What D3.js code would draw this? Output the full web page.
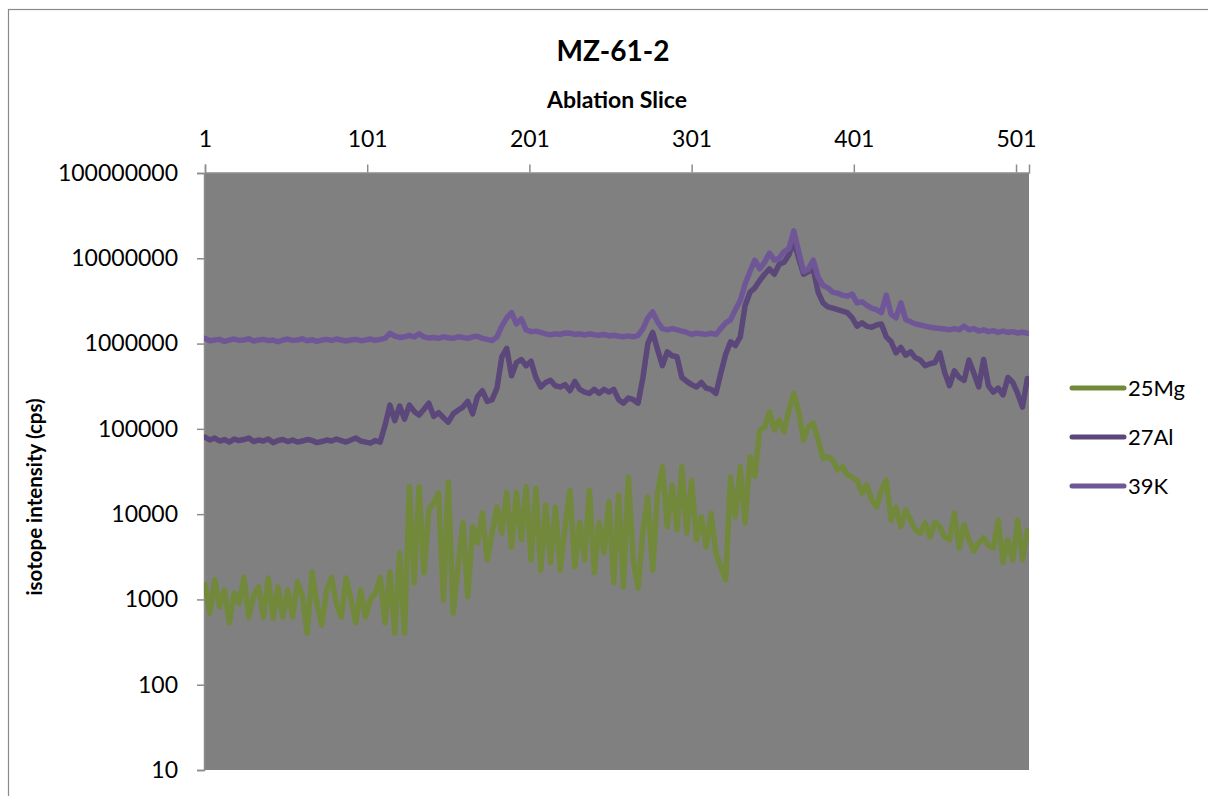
<!DOCTYPE html>
<html>
<head>
<meta charset="utf-8">
<script src="https://cdnjs.cloudflare.com/ajax/libs/d3/7.8.5/d3.min.js"></script>
<style>
  html, body { margin: 0; padding: 0; background: #ffffff; }
  svg { display: block; }
  text { font-family: Lato, "Open Sans", sans-serif; fill: #000; }
</style>
</head>
<body>
<svg id="chart" width="1208" height="796"></svg>
<script>
// Ablation slices sampled every third slice (1, 4, ..., 508)
const slices = d3.range(1, 509, 3);

// isotope intensity (cps)
const mg25 = [
  1.5e3, 690, 1.7e3, 815, 1.29e3, 530, 1.19e3, 900, 1.8e3, 620,
  1.1e3, 1.4e3, 620, 1.78e3, 600, 1.4e3, 620, 1.29e3, 620, 1.6e3,
  1.1e3, 400, 2.1e3, 900, 500, 1.29e3, 1.8e3, 900, 620, 1.78e3,
  1.0e3, 530, 1.29e3, 620, 1.0e3, 1.19e3, 1.8e3, 530, 2.1e3, 400,
  3.5e3, 400, 2.1e4, 1.56e3, 2.1e4, 2.05e3, 1.12e4, 1.35e4, 1.77e4, 985,
  2.4e4, 690, 2.4e3, 7.9e3, 1.07e3, 7.1e3,
  4.6e3, 1.03e4, 2.9e3, 6.0e3, 1.21e4, 6.0e3, 1.8e4, 4.1e3, 1.8e4, 5.0e3,
  2.1e4, 2.9e3, 2.0e4, 2.2e3, 1.28e4, 2.7e3, 1.21e4, 2.2e3, 7.1e3, 1.9e4,
  2.4e3, 8.0e3, 2.9e3, 1.9e4, 2.05e3, 7.9e3, 3.5e3, 1.4e4, 1.56e3, 1.68e4,
  1.4e3, 2.7e4, 2.9e3, 1.36e3, 6.5e3, 1.59e4, 2.2e3, 1.77e4, 3.6e4, 7.1e3,
  2.2e4, 6.5e3, 3.6e4, 6.0e3, 2.5e4, 5.0e3, 9.3e3, 4.1e3, 1.03e4, 3.5e3,
  2.4e3, 1.7e3, 2.7e4, 9.3e3, 3.6e4, 7.9e3,
  4.7e4, 2.8e4, 9.7e4, 1.05e5, 1.58e5, 9.7e4, 1.27e5, 9.2e4, 1.66e5, 2.6e5,
  1.6e5, 7.4e4, 1.05e5, 1.17e5, 7.4e4, 4.5e4, 4.7e4, 4.3e4, 3.3e4, 3.6e4,
  2.9e4, 2.7e4, 2.5e4, 1.77e4, 2.2e4, 1.47e4, 1.21e4, 1.9e4, 2.5e4, 8.5e3,
  1.2e4, 7.1e3, 1.12e4, 8.5e3, 6.5e3, 6.0e3, 7.9e3, 5.4e3, 8.0e3, 7.1e3,
  5.4e3, 5.0e3, 1.03e4, 4.0e3, 7.5e3, 5.0e3, 3.7e3, 4.6e3, 5.3e3, 4.3e3,
  4.0e3, 8.5e3, 2.7e3, 5.0e3, 2.9e3, 8.5e3, 2.9e3, 6.5e3
];

const al27 = [
  8.0e4, 7.4e4, 7.8e4, 7.2e4, 7.5e4, 7.0e4, 7.6e4, 7.3e4, 7.5e4, 7.8e4,
  7.1e4, 7.4e4, 7.2e4, 7.6e4, 6.9e4, 7.3e4, 7.5e4, 7.1e4, 7.4e4, 7.0e4,
  7.2e4, 7.5e4, 7.3e4, 6.9e4, 7.1e4, 7.4e4, 7.2e4, 7.6e4, 7.3e4, 7.0e4,
  7.4e4, 7.8e4, 7.2e4, 7.0e4, 6.8e4, 7.3e4, 7.0e4,
  1.1e5, 1.9e5, 1.25e5, 1.85e5, 1.3e5, 1.9e5, 1.6e5, 1.45e5, 1.7e5, 2.0e5,
  1.4e5, 1.55e5, 1.35e5, 1.2e5, 1.5e5, 1.65e5, 1.8e5, 2.1e5, 1.5e5,
  2.4e5, 2.8e5, 2.1e5, 2.2e5, 3.0e5, 7.0e5, 8.8e5, 4.2e5, 6.0e5, 6.5e5,
  5.5e5, 6.2e5, 4.0e5, 3.1e5, 3.5e5, 3.7e5, 3.2e5, 3.1e5, 3.3e5, 2.8e5,
  3.6e5, 2.9e5, 2.7e5, 2.6e5, 2.9e5, 2.6e5, 2.9e5, 2.7e5, 2.9e5, 2.2e5,
  2.0e5, 2.3e5, 2.2e5, 2.0e5, 4.0e5, 1.0e6, 1.35e6, 8.5e5, 5.5e5, 8.0e5,
  7.2e5, 7.0e5, 4.0e5, 3.6e5, 3.3e5, 3.1e5, 3.5e5, 3.0e5, 2.9e5, 2.6e5,
  4.5e5, 7.5e5, 1.05e6, 9.5e5, 1.2e6,
  2.8e6, 4.0e6, 4.5e6, 5.5e6, 6.5e6, 7.5e6, 6.5e6, 8.5e6, 9.0e6, 1.1e7,
  1.6e7, 1.0e7, 6.5e6, 7.0e6, 7.5e6, 4.0e6, 3.0e6, 2.7e6, 2.6e6, 2.5e6,
  2.4e6, 2.3e6, 2.0e6, 1.6e6, 1.75e6, 1.6e6, 1.55e6, 1.65e6, 1.7e6, 1.2e6,
  1.05e6, 7.8e5, 9.0e5, 7.3e5, 8.0e5, 6.8e5, 6.4e5, 5.5e5, 5.8e5, 6.0e5,
  7.8e5, 4.6e5, 3.2e5, 4.8e5, 4.0e5, 3.7e5, 6.4e5, 4.5e5, 3.1e5, 6.5e5,
  3.2e5, 2.7e5, 3.0e5, 2.5e5, 4.0e5, 3.5e5, 2.6e5, 1.8e5, 3.9e5
];

const k39 = [
  1.15e6, 1.08e6, 1.1e6, 1.12e6, 1.06e6, 1.1e6, 1.13e6, 1.09e6, 1.1e6, 1.14e6,
  1.07e6, 1.1e6, 1.12e6, 1.08e6, 1.1e6, 1.05e6, 1.1e6, 1.13e6, 1.09e6, 1.1e6,
  1.14e6, 1.08e6, 1.11e6, 1.06e6, 1.1e6, 1.12e6, 1.09e6, 1.13e6, 1.1e6, 1.07e6,
  1.1e6, 1.12e6, 1.08e6, 1.1e6, 1.13e6, 1.09e6, 1.12e6,
  1.15e6, 1.32e6, 1.22e6, 1.18e6, 1.2e6, 1.25e6, 1.2e6, 1.3e6, 1.2e6, 1.16e6,
  1.18e6, 1.15e6, 1.2e6, 1.17e6, 1.15e6, 1.2e6, 1.18e6, 1.15e6, 1.2e6,
  1.22e6, 1.15e6, 1.12e6, 1.08e6, 1.2e6, 1.6e6, 2.0e6, 2.3e6, 1.7e6, 1.95e6,
  1.45e6, 1.38e6, 1.4e6, 1.35e6, 1.3e6, 1.27e6, 1.3e6, 1.28e6, 1.33e6, 1.32e6,
  1.28e6, 1.3e6, 1.26e6, 1.3e6, 1.27e6, 1.25e6, 1.28e6, 1.23e6, 1.25e6, 1.22e6,
  1.2e6, 1.23e6, 1.2e6, 1.25e6, 1.5e6, 2.0e6, 2.35e6, 1.8e6, 1.5e6, 1.45e6,
  1.5e6, 1.45e6, 1.4e6, 1.35e6, 1.28e6, 1.32e6, 1.3e6, 1.28e6, 1.32e6, 1.28e6,
  1.5e6, 1.75e6, 1.9e6, 2.5e6, 3.2e6,
  5.0e6, 7.0e6, 9.5e6, 7.5e6, 9.0e6, 1.15e7, 9.5e6, 1.0e7, 1.2e7, 1.3e7,
  2.1e7, 1.2e7, 7.0e6, 7.5e6, 9.5e6, 6.0e6, 4.8e6, 4.5e6, 4.0e6, 3.9e6,
  3.7e6, 3.6e6, 3.8e6, 3.0e6, 3.1e6, 2.8e6, 2.6e6, 2.5e6, 2.3e6, 3.7e6,
  2.2e6, 2.0e6, 3.0e6, 1.9e6, 1.8e6, 1.7e6, 1.65e6, 1.6e6, 1.55e6, 1.52e6,
  1.5e6, 1.48e6, 1.45e6, 1.5e6, 1.45e6, 1.6e6, 1.45e6, 1.5e6, 1.4e6, 1.45e6,
  1.38e6, 1.42e6, 1.35e6, 1.4e6, 1.35e6, 1.38e6, 1.33e6, 1.36e6, 1.32e6
];

const seriesNames = ["25Mg", "27Al", "39K"];
const seriesValues = [mg25, al27, k39];
const seriesColors = ["#72893b", "#5b4779", "#6f5797"];

const xTicks = [1, 101, 201, 301, 401, 501];
const yTicks = [10, 100, 1000, 10000, 100000, 1000000, 10000000, 100000000];

const chartTitle = "MZ-61-2";
const xTitle = "Ablation Slice";
const yTitle = "isotope intensity (cps)";

// ---- layout ----
const plot = { left: 205, right: 1029, top: 173, bottom: 770 };

const svg = d3.select("#chart");

// outer chart frame
svg.append("rect")
  .attr("x", 8.5).attr("y", 9.5)
  .attr("width", 1215).attr("height", 800)
  .attr("fill", "#ffffff")
  .attr("stroke", "#898989").attr("stroke-width", 1.2);

const x = d3.scaleLinear().domain([1, 509]).range([plot.left, plot.right]);
const y = d3.scaleLog().domain([10, 1e8]).range([plot.bottom, plot.top]);

// plot area
svg.append("rect")
  .attr("x", plot.left - 1).attr("y", plot.top)
  .attr("width", plot.right - plot.left + 1).attr("height", plot.bottom - plot.top)
  .attr("fill", "#808080");

svg.append("clipPath").attr("id", "plotClip")
  .append("rect")
  .attr("x", plot.left - 1).attr("y", plot.top)
  .attr("width", plot.right - plot.left + 1).attr("height", plot.bottom - plot.top);

// top category axis
const xAxis = svg.append("g")
  .attr("transform", `translate(0,${plot.top - 0.5})`)
  .call(d3.axisTop(x).tickValues(xTicks).tickSize(8).tickPadding(18).tickFormat(d3.format("d")));
xAxis.select(".domain").attr("stroke", "#8c8c8c").attr("stroke-width", 1.5);
xAxis.selectAll(".tick line").attr("stroke", "#8c8c8c").attr("stroke-width", 1.5);
xAxis.selectAll(".tick text").attr("font-size", 23).attr("font-family", "Lato, sans-serif").attr("fill", "#000");

// left value axis (log)
const yAxis = svg.append("g")
  .attr("transform", `translate(${plot.left - 1},0)`)
  .call(d3.axisLeft(y).tickValues(yTicks).tickSize(7).tickPadding(19).tickFormat(d3.format("d")));
yAxis.select(".domain").attr("stroke", "#8c8c8c").attr("stroke-width", 1.5);
yAxis.selectAll(".tick line").attr("stroke", "#8c8c8c").attr("stroke-width", 1.5);
yAxis.selectAll(".tick text").attr("font-size", 23).attr("font-family", "Lato, sans-serif").attr("fill", "#000");

// series lines
const line = d3.line()
  .x((d, i) => x(slices[i]))
  .y(d => y(d));

const lines = svg.append("g").attr("clip-path", "url(#plotClip)");
seriesValues.forEach((vals, si) => {
  lines.append("path")
    .datum(vals.slice(0, slices.length))
    .attr("d", line)
    .attr("fill", "none")
    .attr("stroke", seriesColors[si])
    .attr("stroke-width", 5.5)
    .attr("stroke-linejoin", "round")
    .attr("stroke-linecap", "round");
});

// titles
svg.append("text")
  .attr("x", 613).attr("y", 61)
  .attr("text-anchor", "middle")
  .attr("font-size", 28).attr("font-weight", 700)
  .text(chartTitle);

svg.append("text")
  .attr("x", 617).attr("y", 108)
  .attr("text-anchor", "middle")
  .attr("font-size", 23).attr("font-weight", 700)
  .text(xTitle);

svg.append("text")
  .attr("transform", "translate(42,497) rotate(-90)")
  .attr("text-anchor", "middle")
  .attr("font-size", 20.5).attr("font-weight", 700)
  .text(yTitle);

// legend
const legend = svg.append("g");
seriesNames.forEach((name, i) => {
  const cy = 388 + i * 49;
  legend.append("line")
    .attr("x1", 1072).attr("x2", 1124)
    .attr("y1", cy).attr("y2", cy)
    .attr("stroke", seriesColors[i]).attr("stroke-width", 5)
    .attr("stroke-linecap", "round");
  legend.append("text")
    .attr("x", 1128).attr("y", cy)
    .attr("dy", "0.36em")
    .attr("font-size", 22)
    .text(name);
});
</script>
</body>
</html>
